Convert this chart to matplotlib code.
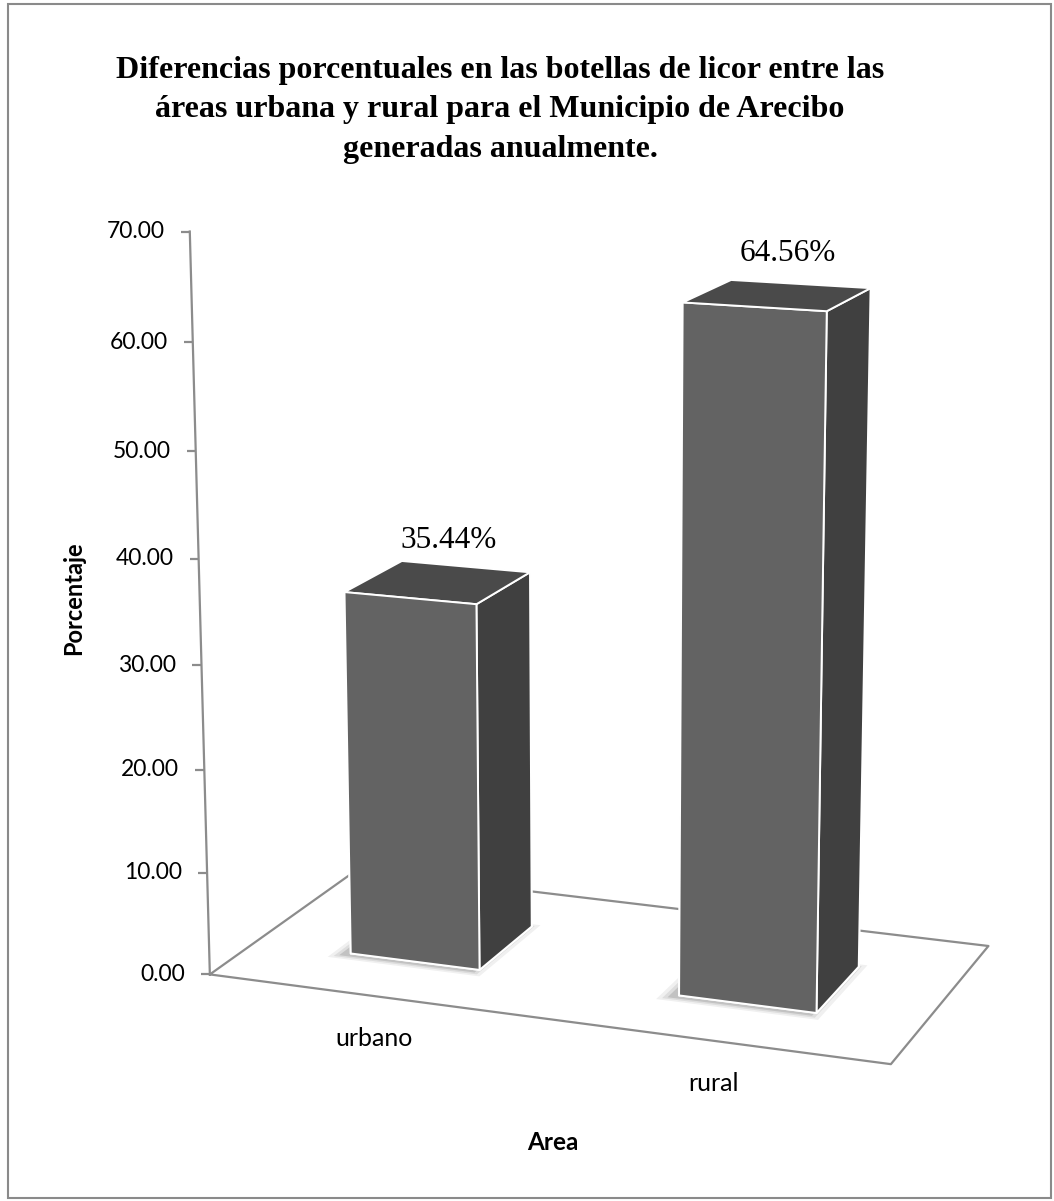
import matplotlib
matplotlib.use("Agg")
import matplotlib.pyplot as plt
from matplotlib import transforms
from matplotlib.patches import Rectangle
from mpl_toolkits.mplot3d.art3d import Poly3DCollection
import numpy as np

titulo = ("Diferencias porcentuales en las botellas de licor entre las\n"
          "áreas urbana y rural para el Municipio de Arecibo\n"
          "generadas anualmente.")
areas = ["urbano", "rural"]
porcentajes = [35.44, 64.56]
etiquetas = ["35.44%", "64.56%"]
ticks_y = [0, 10, 20, 30, 40, 50, 60, 70]
tick_labels = ["0.00", "10.00", "20.00", "30.00", "40.00", "50.00", "60.00", "70.00"]
ylabel = "Porcentaje"
xlabel = "Area"

W, H = 1054, 1201
fig = plt.figure(figsize=(W / 100, H / 100), dpi=100)
fig.patch.set_facecolor("white")

sans = ["Lato", "DejaVu Sans"]
serif = ["Liberation Serif", "DejaVu Serif"]
gris = "#8c8c8c"


def desplazar(dx, dy):
    # offset in pixels (dy positive = down)
    return transforms.ScaledTranslation(dx / 100, -dy / 100, fig.dpi_scale_trans)


# square 3D panel, centre of the box at (591, 614) px from the top-left
lado = 920
ax = fig.add_axes([(591 - lado / 2) / W, (H - 614 - lado / 2) / H, lado / W, lado / H],
                  projection="3d", computed_zorder=False)
ax.set_axis_off()
# the built-in 3D axis texts are not used
for eje in (ax.xaxis, ax.yaxis, ax.zaxis):
    eje.label.set_visible(False)
    eje.offsetText.set_visible(False)
for t in (ax.title, ax._left_title, ax._right_title):
    t.set_visible(False)

n = len(areas)
xc = np.arange(n) + 0.5
ancho, fondo = 0.4, 0.4

# shadows under the bars
for i in range(n):
    for d, a in [(0.035, 0.06), (0.022, 0.08), (0.01, 0.12)]:
        x0, x1 = xc[i] - ancho / 2 - d - 0.015, xc[i] + ancho / 2 + d - 0.015
        y0, y1 = 0.3 - d - 0.015, 0.7 + d - 0.015
        sombra = Poly3DCollection([[(x0, y0, 0), (x1, y0, 0), (x1, y1, 0), (x0, y1, 0)]],
                                  facecolor="black", edgecolor="none", alpha=a, zorder=2)
        ax.add_collection3d(sombra)

# floor
ax.plot([0, n, n, 0, 0], [0, 0, 1, 1, 0], [0, 0, 0, 0, 0], color=gris, lw=1.6, zorder=1)

# value axis with ticks
ax.plot([0, 0], [0, 0], [ticks_y[0], ticks_y[-1]], color=gris, lw=1.6, zorder=1)
ax.plot(np.zeros(len(ticks_y)), np.zeros(len(ticks_y)), ticks_y, ls="none",
        marker=0, ms=6.5, mec=gris, mew=1.6, zorder=1)
for t, lab in zip(ticks_y, tick_labels):
    ax.text(0, 0, t, lab, ha="right", va="center", fontsize=16.5, family=sans,
            transform=ax.transData + desplazar(-25, 0), zorder=5)

# bars
caras = []
for i in range(n):
    caras += ["#3a3a3a", "#4a4a4a", "#636363", "#3a3a3a", "#3a3a3a", "#404040"]
ax.bar3d(xc - ancho / 2, np.full(n, 0.3), np.zeros(n), ancho, fondo, porcentajes,
         color=caras, shade=False, edgecolor="white", linewidth=1.4, zorder=3)

for i in range(n):
    ax.text(xc[i], 0.5, porcentajes[i], etiquetas[i], ha="center", va="center",
            fontsize=22.5, family=serif, transform=ax.transData + desplazar(10, -42), zorder=5)
    ax.text(xc[i], 0, 0, areas[i], ha="center", va="center", fontsize=18, family=sans,
            transform=ax.transData + desplazar(2, 43), zorder=5)

ax.set_xlim(0, n)
ax.set_ylim(0, 1)
ax.set_zlim(0, 70)
ax.set_box_aspect((745, 375, 787), zoom=1.164)
ax.view_init(elev=14, azim=-69.5)
ax.set_proj_type("persp", focal_length=0.75)

fig.text(500 / W, 1 - 110 / H, titulo, ha="center", va="center", multialignment="center",
         fontsize=23, fontweight="bold", family=serif, linespacing=1.47)
fig.text(74 / W, 1 - 598 / H, ylabel, rotation=90, ha="center", va="center",
         fontsize=17, fontweight="bold", family=sans)
fig.text(553 / W, 1 - 1142 / H, xlabel, ha="center", va="center",
         fontsize=17.5, fontweight="bold", family=sans)

fig.add_artist(Rectangle((8 / W, 3 / H), 1 - 11 / W, 1 - 7 / H, transform=fig.transFigure,
                         fill=False, edgecolor="#8a8a8a", lw=1.5))

fig.savefig("out.png", dpi=100, facecolor="white")
